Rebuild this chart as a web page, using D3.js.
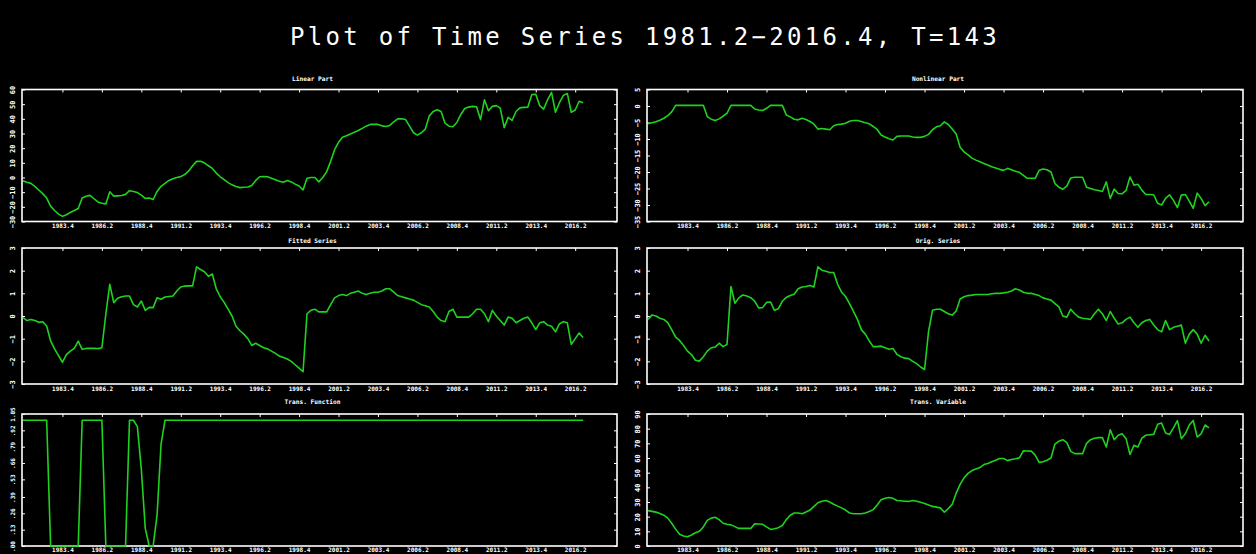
<!DOCTYPE html>
<html>
<head>
<meta charset="utf-8">
<script src="https://cdn.jsdelivr.net/npm/d3@7"></script>
<style>
  html, body { margin: 0; padding: 0; background: #000; }
  svg { display: block; }
</style>
</head>
<body>
<div id="chart"></div>
<script>
var svgWidth = 1256;
var svgHeight = 554;

var mainTitle = "Plot of Time Series 1981.2\u22122016.4, T=143";

// x tick labels (every 10 quarters)
var xTickLabels = ["1983.4", "1986.2", "1988.4", "1991.2", "1993.4", "1996.2", "1998.4",
  "2001.2", "2003.4", "2006.2", "2008.4", "2011.2", "2013.4", "2016.2"];

// y tick values for each panel
var linearTicks = [-30, -20, -10, 0, 10, 20, 30, 40, 50, 60];
var nonlinearTicks = [-35, -30, -25, -20, -15, -10, -5, 0, 5];
var fittedTicks = [-3, -2, -1, 0, 1, 2, 3];
var origTicks = [-3, -2, -1, 0, 1, 2, 3];
var transFnTicks = [0, 0.13, 0.26, 0.39, 0.53, 0.66, 0.79, 0.92, 1.05];
var transVarTicks = [0, 10, 20, 30, 40, 50, 60, 70, 80, 90];

// series, 1981.2 .. 2016.4 (143 quarters)
var linearPart = [
  -2.3, -3.2, -4.0, -6.0, -8.5, -11.0, -14.0, -19.5, -22.5, -25.0,
  -26.5, -25.4, -23.8, -22.5, -21.2, -14.0, -12.8, -12.2, -14.5, -16.7,
  -17.5, -18.0, -9.7, -12.7, -12.5, -12.3, -11.5, -9.0, -9.5, -10.3,
  -12.0, -14.2, -14.0, -15.0, -9.5, -6.0, -4.0, -2.0, -0.8, 0.0,
  0.6, 2.0, 4.5, 8.0, 11.0, 11.0, 10.0, 8.0, 6.2, 3.0,
  0.5, -1.5, -3.5, -5.0, -6.2, -6.9, -6.7, -6.5, -5.5, -2.0,
  0.5, 0.7, 0.5, -0.5, -1.5, -2.5, -3.2, -2.0, -3.0, -4.5,
  -5.8, -8.5, -0.5, 0.0, 0.0, -3.0, 0.0, 4.0, 11.0, 19.0,
  24.0, 27.5, 28.5, 29.7, 30.8, 32.0, 33.5, 35.0, 36.2, 36.2,
  36.2, 35.2, 34.8, 35.5, 38.0, 40.0, 40.0, 39.5, 35.0, 30.5,
  28.9, 30.5, 33.0, 42.0, 45.0, 46.2, 45.0, 37.0, 35.0, 34.6,
  37.5, 43.0, 47.0, 48.0, 48.5, 48.2, 39.5, 53.0, 45.5, 48.5,
  49.0, 47.3, 34.0, 41.0, 39.0, 45.0, 47.5, 47.8, 48.0, 56.5,
  56.8, 49.0, 46.6, 53.0, 58.0, 44.5, 51.0, 56.0, 57.3, 44.5,
  46.0, 52.0, 51.0
];

var nonlinearPart = [
  -5.4, -5.1, -4.8, -4.3, -3.7, -2.9, -1.8, 0.2, 0.2, 0.2,
  0.2, 0.2, 0.2, 0.2, 0.2, -3.2, -4.0, -4.4, -3.9, -3.1,
  -2.2, 0.2, 0.2, 0.2, 0.2, 0.2, 0.2, -0.9, -1.2, -1.35,
  -0.7, 0.2, 0.2, 0.2, 0.2, -2.7, -3.3, -4.0, -4.2, -3.7,
  -4.1, -4.7, -5.5, -7.0, -6.8, -7.0, -7.2, -6.0, -5.6, -5.5,
  -5.2, -4.6, -4.4, -4.4, -4.7, -5.1, -5.4, -6.2, -7.1, -8.8,
  -9.4, -9.9, -10.3, -9.2, -9.1, -9.1, -9.1, -9.4, -9.5, -9.5,
  -9.2, -8.6, -7.2, -6.3, -6.0, -4.8, -5.6, -7.0, -8.5, -12.5,
  -13.9, -14.8, -15.8, -16.4, -16.9, -17.4, -17.9, -18.4, -18.8, -19.2,
  -19.5, -18.9, -19.3, -19.8, -20.1, -21.0, -21.9, -21.9, -21.9, -19.5,
  -19.1, -19.3, -20.0, -23.5, -24.6, -25.2, -24.3, -21.8, -21.6, -21.6,
  -21.6, -24.6, -25.0, -25.4, -25.6, -25.9, -23.0, -28.0, -25.2, -26.5,
  -26.6, -25.6, -21.5, -24.0, -23.7, -25.5, -26.8, -26.8, -26.9, -29.5,
  -30.0, -28.0, -26.9, -28.6, -30.8, -27.0, -26.8, -28.8, -31.0, -26.4,
  -28.0, -30.2, -29.0
];

var fittedSeries = [
  -0.07, -0.2, -0.15, -0.2, -0.28, -0.25, -0.44, -1.1, -1.45, -1.75,
  -2.04, -1.7, -1.55, -1.43, -1.11, -1.47, -1.43, -1.42, -1.43, -1.44,
  -1.4, 0.08, 1.4, 0.59, 0.78, 0.85, 0.88, 0.88, 0.5, 0.4,
  0.66, 0.25, 0.38, 0.37, 0.81, 0.74, 0.84, 0.86, 0.88, 1.1,
  1.28, 1.32, 1.33, 1.33, 2.17, 2.05, 1.95, 1.75, 1.85, 1.2,
  0.85, 0.6, 0.3, 0.0, -0.45, -0.65, -0.8, -1.0, -1.3, -1.2,
  -1.3, -1.4, -1.45, -1.55, -1.65, -1.77, -1.83, -1.9, -2.0, -2.15,
  -2.3, -2.46, 0.1, 0.25, 0.3, 0.18, 0.18, 0.18, 0.5, 0.8,
  0.9, 0.95, 0.9, 1.0, 1.05, 1.1, 1.0, 0.95, 1.0, 1.05,
  1.05, 1.1, 1.2, 1.2, 1.05, 0.9, 0.85, 0.8, 0.75, 0.7,
  0.6, 0.5, 0.45, 0.4, 0.2, -0.05, -0.2, -0.25, 0.2, 0.3,
  -0.05, -0.05, -0.05, -0.05, 0.1, 0.3, 0.3, 0.1, -0.25, 0.25,
  0.0, -0.2, -0.4, -0.05, -0.1, -0.3, -0.2, -0.1, -0.05, -0.3,
  -0.6, -0.3, -0.25, -0.4, -0.45, -0.7, -0.35, -0.25, -0.3, -1.25,
  -1.0, -0.75, -0.95
];

var origSeries = [
  -0.15, 0.04, 0.0, -0.1, -0.15, -0.29, -0.6, -0.93, -1.08, -1.3,
  -1.55, -1.7, -1.95, -1.99, -1.8, -1.55, -1.4, -1.37, -1.2, -1.35,
  -1.25, 1.3, 0.56, 0.8, 0.93, 0.88, 0.81, 0.65, 0.36, 0.37,
  0.6, 0.62, 0.25, 0.32, 0.65, 0.82, 0.9, 0.96, 1.2, 1.28,
  1.3, 1.35, 1.28, 2.17, 2.02, 1.97, 1.92, 1.92, 1.4, 1.05,
  0.86, 0.55, 0.2, -0.15, -0.6, -0.8, -1.1, -1.35, -1.35, -1.33,
  -1.4, -1.47, -1.43, -1.69, -1.8, -1.86, -1.88, -2.0, -2.1, -2.25,
  -2.36, -0.7, 0.25, 0.3, 0.3, 0.2, 0.1, 0.04, 0.22, 0.75,
  0.85, 0.9, 0.92, 0.95, 0.95, 0.95, 0.95, 0.98, 1.0, 1.0,
  1.02, 1.05, 1.1, 1.2, 1.15, 1.05, 1.0, 1.0, 0.95, 0.9,
  0.8, 0.75, 0.7, 0.55, 0.4, 0.0, -0.05, 0.3, 0.1, -0.05,
  -0.1, -0.12, -0.15, 0.1, 0.3, 0.1, -0.2, 0.2, -0.1, -0.35,
  -0.3, -0.15, -0.05, -0.3, -0.5, -0.3, -0.2, -0.15, -0.4, -0.6,
  -0.7, -0.2, -0.6, -0.5, -0.45, -0.4, -1.2, -0.8, -0.6, -0.8,
  -1.2, -0.85, -1.1
];

var transFunction = [
  1, 1, 1, 1, 1, 1, 1, 0, 0, 0,
  0, 0, 0, 0, 0, 1, 1, 1, 1, 1,
  1, 0, 0, 0, 0, 0, 0, 1, 1, 0.95,
  0.61, 0.14, 0, 0, 0.25, 0.81, 1, 1, 1, 1,
  1, 1, 1, 1, 1, 1, 1, 1, 1, 1,
  1, 1, 1, 1, 1, 1, 1, 1, 1, 1,
  1, 1, 1, 1, 1, 1, 1, 1, 1, 1,
  1, 1, 1, 1, 1, 1, 1, 1, 1, 1,
  1, 1, 1, 1, 1, 1, 1, 1, 1, 1,
  1, 1, 1, 1, 1, 1, 1, 1, 1, 1,
  1, 1, 1, 1, 1, 1, 1, 1, 1, 1,
  1, 1, 1, 1, 1, 1, 1, 1, 1, 1,
  1, 1, 1, 1, 1, 1, 1, 1, 1, 1,
  1, 1, 1, 1, 1, 1, 1, 1, 1, 1,
  1, 1, 1
];

var transVariable = [
  24.1, 23.6, 23.1, 22.2, 21.0, 19.0, 15.5, 11.5, 8.0, 6.8,
  6.3, 7.5, 9.0, 10.0, 13.0, 17.5, 19.0, 19.6, 18.0, 15.5,
  14.8, 14.4, 13.2, 12.0, 12.0, 12.0, 12.0, 15.1, 15.0, 14.8,
  13.0, 11.3, 11.8, 12.5, 14.0, 18.0, 21.0, 22.5, 22.5, 22.0,
  23.2, 24.5, 27.0, 29.5, 30.5, 31.0, 30.0, 28.5, 27.2, 26.0,
  24.5, 22.5, 22.0, 22.0, 22.0, 22.5, 23.5, 24.8, 28.0, 31.5,
  32.5, 33.1, 32.5, 31.0, 30.8, 30.5, 30.4, 31.0, 30.5, 29.8,
  29.0, 28.0, 27.0, 26.5, 26.0, 23.0, 25.5, 28.5, 36.0, 42.0,
  46.5, 49.5, 51.4, 52.5, 53.5, 55.5, 56.3, 57.5, 58.5, 59.7,
  59.7, 58.2, 59.0, 59.5, 60.1, 64.9, 64.8, 64.7, 62.0, 57.0,
  57.5, 58.5, 60.0, 69.5, 71.5, 72.5, 70.5, 64.5, 63.0, 63.0,
  63.0, 70.0, 72.5, 73.5, 73.9, 73.9, 67.5, 79.3, 72.5, 75.5,
  76.6, 73.2, 62.4, 68.7, 67.5, 73.5, 75.5, 75.8, 76.1, 83.0,
  83.8, 77.0, 76.1, 80.5, 85.5, 73.2, 76.5, 82.5, 85.6, 74.3,
  76.5, 82.5, 80.6
];

// layout
var cols = [{x0: 22, x1: 617}, {x0: 647, x1: 1243}];
var rows = [
  {y0: 89.5, y1: 221.5, titleY: 81, labelY: 228},
  {y0: 248, y1: 384, titleY: 243, labelY: 391},
  {y0: 414, y1: 546, titleY: 404, labelY: 552}
];

var intFmt = d3.format("d");
var fracFmt = d => d3.format(".2f")(d).replace(/^0/, "");

var panels = [
  {title: "Linear Part", data: linearPart, ticks: linearTicks, fmt: intFmt, col: 0, row: 0},
  {title: "Nonlinear Part", data: nonlinearPart, ticks: nonlinearTicks, fmt: intFmt, col: 1, row: 0},
  {title: "Fitted Series", data: fittedSeries, ticks: fittedTicks, fmt: intFmt, col: 0, row: 1},
  {title: "Orig. Series", data: origSeries, ticks: origTicks, fmt: intFmt, col: 1, row: 1},
  {title: "Trans. Function", data: transFunction, ticks: transFnTicks, fmt: fracFmt, col: 0, row: 2, small: true},
  {title: "Trans. Variable", data: transVariable, ticks: transVarTicks, fmt: intFmt, col: 1, row: 2}
];

// quarter label -> index from 1981.2
function quarterIndex(lbl) {
  var parts = lbl.split(".");
  return (+parts[0] - 1981) * 4 + (+parts[1] - 2);
}
var xTickIdx = xTickLabels.map(quarterIndex);

var svg = d3.select("#chart")
  .append("svg")
  .attr("width", svgWidth)
  .attr("height", svgHeight);

svg.append("rect")
  .attr("width", svgWidth)
  .attr("height", svgHeight)
  .attr("fill", "#000");

svg.append("text")
  .attr("x", 645)
  .attr("y", 45)
  .attr("text-anchor", "middle")
  .attr("fill", "#fff")
  .attr("font-family", "DejaVu Sans Mono, monospace")
  .attr("font-size", 24)
  .attr("letter-spacing", 3.3)
  .text(mainTitle);

var tickFont = "DejaVu Sans Mono, monospace";

panels.forEach(function(p) {
  var c = cols[p.col], r = rows[p.row];
  var g = svg.append("g");

  var xScale = d3.scaleLinear()
    .domain([0, 150.6])
    .range([c.x0 + 1, c.x1]);

  var yScale = d3.scaleLinear()
    .domain([p.ticks[0], p.ticks[p.ticks.length - 1]])
    .range([r.y1, r.y0]);

  // panel title
  g.append("text")
    .attr("x", (c.x0 + c.x1) / 2 - 7)
    .attr("y", r.titleY)
    .attr("text-anchor", "middle")
    .attr("fill", "#fff")
    .attr("font-family", tickFont)
    .attr("font-size", 6.2)
    .attr("font-weight", "bold")
    .text(p.title);

  // top ticks (inward)
  var topAxis = d3.axisTop(xScale)
    .tickValues(xTickIdx)
    .tickSize(-3)
    .tickFormat("");
  g.append("g")
    .attr("transform", `translate(0, ${r.y0})`)
    .call(topAxis)
    .call(a => a.select(".domain").remove())
    .selectAll("line").attr("stroke", "#fff");

  // bottom labels
  var bottomAxis = d3.axisBottom(xScale)
    .tickValues(xTickIdx)
    .tickSize(0)
    .tickFormat((d, i) => xTickLabels[i]);
  g.append("g")
    .attr("transform", `translate(0, ${r.y1})`)
    .call(bottomAxis)
    .call(a => a.select(".domain").remove())
    .selectAll("text")
    .attr("y", r.labelY - r.y1)
    .attr("dy", 0)
    .attr("fill", "#fff")
    .attr("font-family", tickFont)
    .attr("font-size", 6)
    .attr("font-weight", "bold");

  // left axis with rotated labels
  var leftAxis = d3.axisLeft(yScale)
    .tickValues(p.ticks)
    .tickSize(-3)
    .tickFormat(p.fmt);
  var la = g.append("g")
    .attr("transform", `translate(${c.x0}, 0)`)
    .call(leftAxis)
    .call(a => a.select(".domain").remove());
  la.selectAll("line").attr("stroke", "#fff");
  la.selectAll("text")
    .attr("transform", "rotate(-90)")
    .attr("x", 0)
    .attr("y", -7)
    .attr("dy", 0)
    .attr("text-anchor", "middle")
    .attr("fill", "#fff")
    .attr("font-family", tickFont)
    .attr("font-size", p.small ? 6 : 7)
    .attr("font-weight", "bold");

  // right ticks
  var rightAxis = d3.axisRight(yScale)
    .tickValues(p.ticks)
    .tickSize(-3)
    .tickFormat("");
  g.append("g")
    .attr("transform", `translate(${c.x1}, 0)`)
    .call(rightAxis)
    .call(a => a.select(".domain").remove())
    .selectAll("line").attr("stroke", "#fff");

  // frame
  g.append("rect")
    .attr("x", c.x0)
    .attr("y", r.y0)
    .attr("width", c.x1 - c.x0)
    .attr("height", r.y1 - r.y0)
    .attr("fill", "none")
    .attr("stroke", "#fff")
    .attr("stroke-width", 1.6);

  // series line
  var line = d3.line()
    .x((d, i) => xScale(i))
    .y(d => yScale(d));

  g.append("path")
    .datum(p.data)
    .attr("d", line)
    .attr("fill", "none")
    .attr("stroke", "#1fd21f")
    .attr("stroke-width", 1.6)
    .attr("stroke-linejoin", "round");
});
</script>
</body>
</html>
